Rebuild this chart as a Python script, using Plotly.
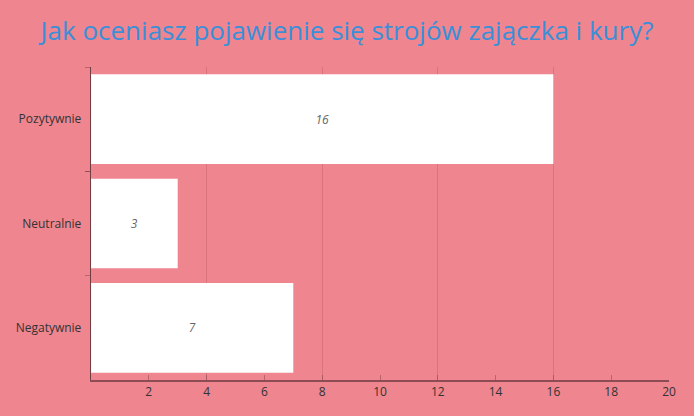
import plotly.graph_objects as go

categories = ["Pozytywnie", "Neutralnie", "Negatywnie"]
values = [16, 3, 7]
title_text = "Jak oceniasz pojawienie się strojów zajączka i kury?"

bg = "#EE858F"

fig = go.Figure()
fig.add_trace(go.Bar(
    y=categories, x=values, orientation="h",
    marker=dict(color="white", line=dict(width=0)),
    text=[str(v) for v in values], textposition="inside",
    insidetextanchor="middle",
    textfont=dict(family="Open Sans", size=12, color="#666666", style="italic"),
    hoverinfo="skip", xaxis="x", yaxis="y",
))
# invisible trace to drive the grid overlay axis
fig.add_trace(go.Bar(y=categories, x=[0, 0, 0], orientation="h",
                     xaxis="x2", yaxis="y", showlegend=False,
                     marker=dict(color="rgba(0,0,0,0)"), hoverinfo="skip"))

fig.update_layout(
    width=694, height=416,
    paper_bgcolor=bg, plot_bgcolor=bg,
    margin=dict(l=91, r=25, t=67, b=36),
    showlegend=False, barmode="overlay", bargap=0.14,
    title=dict(text=title_text, x=0.5, xanchor="center", y=0.925, yanchor="middle",
               font=dict(family="Open Sans", size=26, color="#3A8FD9")),
    xaxis=dict(range=[0, 20], dtick=2, tick0=0, showgrid=False, zeroline=False,
               showline=True, linecolor="rgba(60,30,35,0.55)", linewidth=2,
               ticks="inside", ticklen=5, tickcolor="rgba(60,30,35,0.3)",
               tickfont=dict(family="Open Sans", size=12, color="#333333"),
               tickvals=[2, 4, 6, 8, 10, 12, 14, 16, 18, 20]),
    xaxis2=dict(range=[0, 20], dtick=4, tick0=0, overlaying="x", matches=None,
                showgrid=True, gridcolor="rgba(120,40,50,0.18)", gridwidth=1,
                showticklabels=False, zeroline=False, showline=False, side="bottom"),
    yaxis=dict(autorange="reversed", showgrid=False, zeroline=False,
               showline=True, linecolor="rgba(60,30,35,0.7)", linewidth=1,
               ticks="outside", ticklen=5, tickson="boundaries",
               tickcolor="rgba(60,30,35,0.3)",
               tickfont=dict(family="Open Sans", size=12, color="#333333"),
               ticksuffix="  "),
)

fig.write_html("out.html")
